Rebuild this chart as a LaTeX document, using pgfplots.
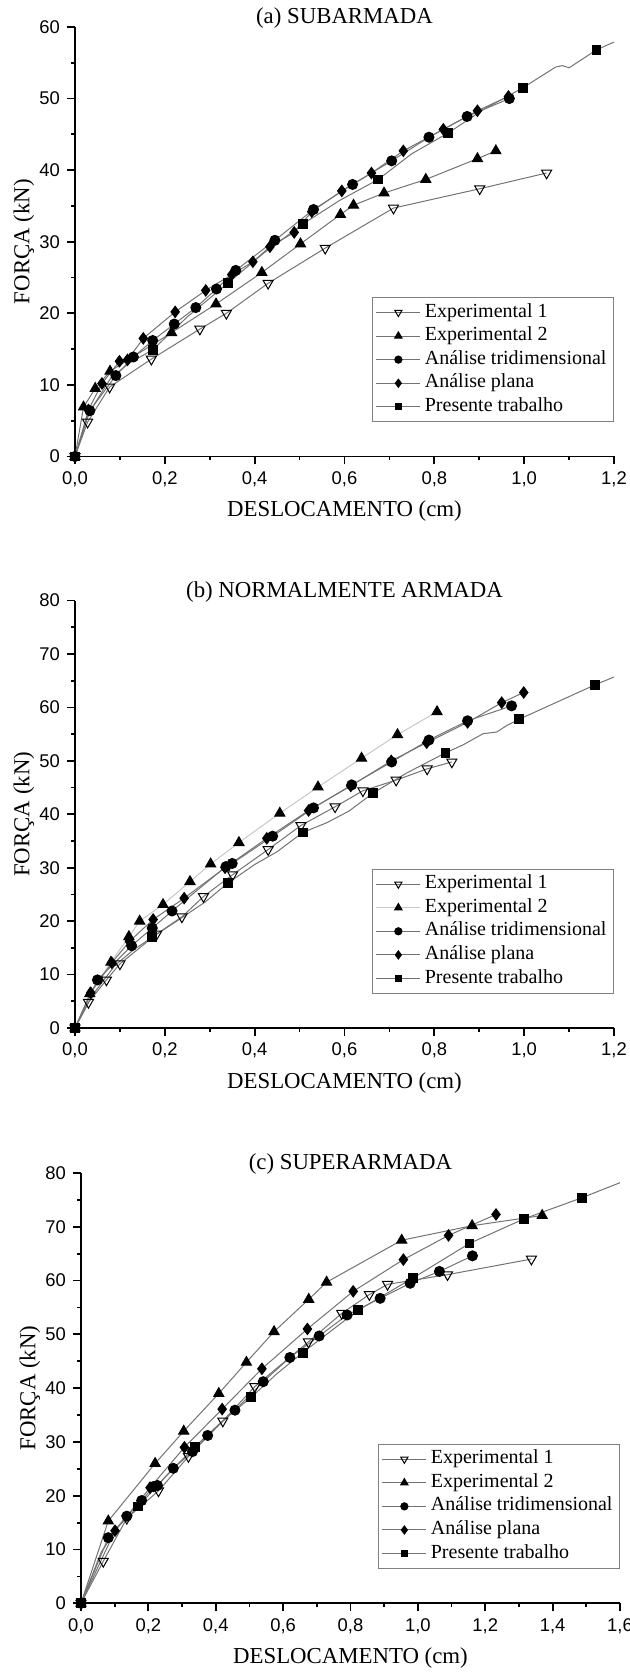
\documentclass[border=0pt]{standalone}
\usepackage{fontspec}
\setmainfont{Liberation Serif}
\setsansfont{Liberation Sans}
\usepackage{pgfplots}
\pgfplotsset{compat=1.18}

\pgfplotsset{
  panel/.style={
    scale only axis, width=269.5pt,
    axis x line*=bottom, axis y line*=left,
    axis line style={line width=0.9pt},
    tick align=outside,
    major tick length=4pt, minor tick length=1.8pt,
    every tick/.style={line width=0.9pt, black},
    minor x tick num=1, minor y tick num=1,
    xmin=0, ymin=0,
    ticklabel style={font=\sffamily\fontsize{9.2}{10}\selectfont},
    /pgf/number format/assume math mode=true,
    x tick label style={/pgf/number format/fixed, /pgf/number format/fixed zerofill,
      /pgf/number format/precision=1, /pgf/number format/use comma},
    label style={font=\fontsize{11.4}{13}\selectfont},
    every axis title/.style={font=\fontsize{11.4}{13}\selectfont,
      at={(axis description cs:0.5,1.021)}, anchor=center},
    xlabel={DESLOCAMENTO (cm)}, ylabel={FORÇA (kN)},
    xlabel style={at={(axis description cs:0.5,-0.128)}, anchor=center},
    ylabel style={at={(axis description cs:-0.0946,0.5)}, anchor=center},
    legend cell align=left,
    legend style={at={(axis description cs:1,0.08)}, anchor=south east,
      draw=black!50, line width=0.5pt, font=\fontsize{10}{12}\selectfont,
      inner xsep=1.5pt, inner ysep=1.5pt, row sep=0pt,
      nodes={inner ysep=1.2pt, text height=7pt, text depth=2.4pt}},
    legend image code/.code={\draw[mark indices={2}] plot coordinates {(0pt,0pt) (11pt,0pt) (22pt,0pt)};},
    legend image post style={every mark/.append style={scale=0.72}},
  },
  exp1/.style={black!55, line width=0.5pt, mark=triangle, mark size=2.9pt,
    mark options={rotate=180, fill=white, draw=black, line width=0.5pt, solid}},
  exp2/.style={black!55, line width=0.5pt, mark=triangle*, mark size=2.9pt,
    mark options={fill=black, draw=black, solid}},
  tri/.style={black!55, line width=0.5pt, mark=*, mark size=2.5pt,
    mark options={fill=black, draw=black, solid}},
  plana/.style={black!55, line width=0.5pt, mark=diamond*, mark size=2.8pt,
    mark options={fill=black, draw=black, solid}},
  pres/.style={black!55, line width=0.5pt, mark=square*, mark size=2.2pt,
    mark options={fill=black, draw=black, solid}},
}

\begin{document}
\begin{tikzpicture}
\path[use as bounding box] (0,0) rectangle (315pt,837.5pt);

% (a) SUBARMADA
\begin{axis}[panel, at={(37.5pt,609.25pt)}, anchor=south west, height=214.75pt,
  xmax=1.2, ymax=60, xtick={0,0.2,0.4,0.6,0.8,1.0,1.2}, ytick={0,10,20,30,40,50,60},
  title={(a) SUBARMADA}]
\addplot[exp1] coordinates {(0,0) (0.028,4.8) (0.077,9.7) (0.170,13.6) (0.278,17.8) (0.337,20.0) (0.430,24.2) (0.557,29.1) (0.709,34.7) (0.901,37.4) (1.050,39.6)};
\addlegendentry{Experimental 1}
\addplot[exp2] coordinates {(0,0) (0.019,6.9) (0.045,9.5) (0.078,11.9) (0.215,17.3) (0.314,21.3) (0.416,25.7) (0.502,29.7) (0.591,33.8) (0.620,35.1) (0.688,36.8) (0.781,38.7) (0.896,41.6) (0.937,42.7)};
\addlegendentry{Experimental 2}
\addplot[tri] coordinates {(0,0) (0.033,6.4) (0.091,11.3) (0.130,13.9) (0.173,16.2) (0.221,18.5) (0.269,20.8) (0.315,23.4) (0.358,26.0) (0.445,30.2) (0.531,34.5) (0.618,38.0) (0.705,41.3) (0.788,44.6) (0.873,47.5) (0.967,50.0)};
\addlegendentry{Análise tridimensional}
\addplot[plana] coordinates {(0,0) (0.030,6.5) (0.060,10.2) (0.099,13.3) (0.117,13.5) (0.152,16.5) (0.223,20.2) (0.291,23.2) (0.349,25.4) (0.396,27.2) (0.434,29.3) (0.488,31.3) (0.527,34.2) (0.594,37.1) (0.660,39.6) (0.731,42.7) (0.820,45.7) (0.896,48.3) (0.965,50.3)};
\addlegendentry{Análise plana}
\addplot[pres, mark indices={1,5,7,9,11,13,15,19}] coordinates {(0,0) (0.03,6.0) (0.08,11.0) (0.12,13.0) (0.173,14.9) (0.25,19.5) (0.340,24.2) (0.42,28.4) (0.508,32.5) (0.59,35.8) (0.675,38.7) (0.75,42.3) (0.831,45.2) (0.91,48.5) (0.997,51.5) (1.07,54.4) (1.085,54.6) (1.10,54.3) (1.161,56.8) (1.2,57.9)};
\addlegendentry{Presente trabalho}
\end{axis}

% (b) NORMALMENTE ARMADA
\begin{axis}[panel, at={(37.5pt,323.5pt)}, anchor=south west, height=213.7pt,
  xmax=1.2, ymax=80, xtick={0,0.2,0.4,0.6,0.8,1.0,1.2}, ytick={0,10,20,30,40,50,60,70,80},
  title={(b) NORMALMENTE ARMADA}]
\addplot[exp1] coordinates {(0,0) (0.030,4.8) (0.070,9.0) (0.100,12.0) (0.182,17.6) (0.238,20.8) (0.286,24.6) (0.351,28.7) (0.430,33.4) (0.503,37.9) (0.579,41.4) (0.641,44.4) (0.715,46.4) (0.784,48.5) (0.839,49.8)};
\addlegendentry{Experimental 1}
\addplot[exp2, black!22] coordinates {(0,0) (0.033,6.4) (0.080,12.3) (0.120,17.1) (0.144,20.0) (0.196,23.1) (0.256,27.4) (0.302,30.7) (0.365,34.7) (0.456,40.2) (0.541,45.1) (0.638,50.5) (0.718,54.9) (0.806,59.2)};
\addlegendentry{Experimental 2}
\addplot[tri] coordinates {(0,0) (0.050,9.0) (0.126,15.4) (0.172,18.7) (0.216,21.9) (0.336,30.2) (0.350,30.8) (0.440,35.9) (0.531,41.2) (0.616,45.5) (0.705,49.8) (0.788,53.9) (0.874,57.5) (0.972,60.3)};
\addlegendentry{Análise tridimensional}
\addplot[plana] coordinates {(0,0) (0.035,6.6) (0.082,12.2) (0.121,16.2) (0.174,20.3) (0.243,24.3) (0.334,30.0) (0.427,35.5) (0.520,40.7) (0.614,45.3) (0.704,50.0) (0.783,53.4) (0.874,57.2) (0.950,60.9) (0.999,62.8)};
\addlegendentry{Análise plana}
\addplot[pres, mark indices={1,5,8,11,14,16,21,22}] coordinates {(0,0) (0.04,6.3) (0.09,11.8) (0.13,14.6) (0.172,17.0) (0.23,20.2) (0.29,23.6) (0.340,27.1) (0.40,30.6) (0.45,33.0) (0.507,36.6) (0.56,38.4) (0.61,40.6) (0.664,44.0) (0.74,47.8) (0.825,51.5) (0.864,53.0) (0.909,55.1) (0.939,55.4) (0.961,56.6) (0.989,57.8) (1.157,64.2) (1.2,65.7)};
\addlegendentry{Presente trabalho}
\end{axis}

% (c) SUPERARMADA
\begin{axis}[panel, at={(40.5pt,35.85pt)}, anchor=south west, height=215.15pt,
  xmax=1.6, ymax=80, xtick={0,0.2,0.4,0.6,0.8,1.0,1.2,1.4,1.6}, ytick={0,10,20,30,40,50,60,70,80},
  title={(c) SUPERARMADA}]
\addplot[exp1] coordinates {(0,0) (0.066,7.8) (0.136,15.8) (0.230,20.9) (0.319,27.3) (0.421,33.9) (0.516,40.3) (0.675,48.6) (0.774,53.9) (0.856,57.4) (0.910,59.3) (1.088,61.1) (1.337,64.0)};
\addlegendentry{Experimental 1}
\addplot[exp2] coordinates {(0,0) (0.081,15.3) (0.220,26.0) (0.305,32.0) (0.409,39.0) (0.491,44.8) (0.573,50.5) (0.676,56.5) (0.729,59.7) (0.952,67.5) (1.161,70.2) (1.369,72.1)};
\addlegendentry{Experimental 2}
\addplot[tri] coordinates {(0,0) (0.081,12.2) (0.136,16.2) (0.180,19.1) (0.215,21.7) (0.227,21.9) (0.274,25.1) (0.331,28.2) (0.376,31.2) (0.457,35.9) (0.541,41.2) (0.620,45.7) (0.707,49.7) (0.790,53.6) (0.888,56.7) (0.977,59.5) (1.064,61.7) (1.162,64.6)};
\addlegendentry{Análise tridimensional}
\addplot[plana] coordinates {(0,0) (0.101,13.5) (0.205,21.5) (0.307,29.0) (0.419,36.1) (0.537,43.6) (0.672,51.0) (0.808,58.0) (0.957,63.9) (1.091,68.4) (1.232,72.3)};
\addlegendentry{Análise plana}
\addplot[pres, mark indices={1,4,6,8,10,11,12,13,14,15}] coordinates {(0,0) (0.06,9.5) (0.11,14.2) (0.170,18.0) (0.25,23.5) (0.338,29.1) (0.42,33.9) (0.505,38.3) (0.58,42.6) (0.658,46.6) (0.823,54.5) (0.986,60.5) (1.153,66.9) (1.316,71.5) (1.487,75.4) (1.6,78.2)};
\addlegendentry{Presente trabalho}
\end{axis}
\end{tikzpicture}
\end{document}
